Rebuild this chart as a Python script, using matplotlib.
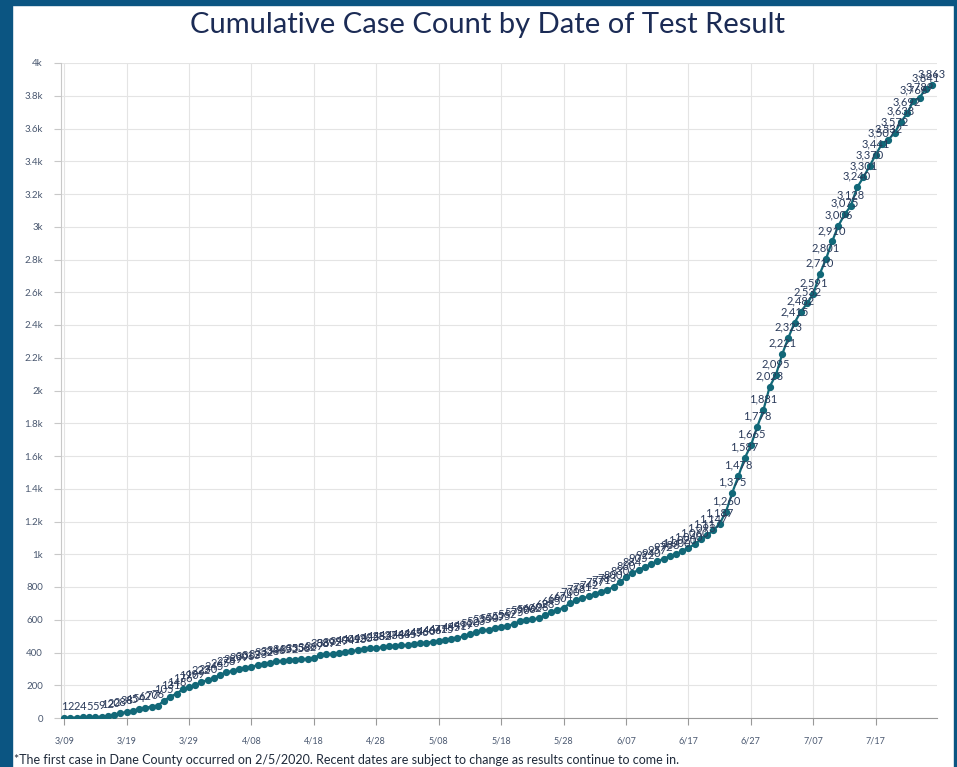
import matplotlib
matplotlib.use("Agg")
import matplotlib.pyplot as plt
from matplotlib.patches import Rectangle
from matplotlib.ticker import FuncFormatter

plt.rcParams['font.family'] = ['Lato', 'DejaVu Sans']

# cumulative cases, one value per day starting 3/09
cases = [1, 2, 2, 4, 5, 5, 9, 12, 20, 28,
         38, 45, 54, 62, 70, 76, 105, 131, 148, 176,
         190, 199, 222, 230, 245, 265, 278, 289, 299, 306,
         313, 323, 332, 338, 346, 349, 352, 355, 358, 362,
         367, 386, 389, 392, 397, 404, 409, 413, 420, 425,
         428, 432, 437, 438, 443, 445, 449, 456, 460, 466,
         471, 475, 485, 491, 499, 510, 523, 535, 540, 547,
         555, 562, 575, 590, 596, 602, 608, 628, 645, 660,
         674, 700, 718, 731, 742, 757, 771, 783, 800, 830,
         860, 884, 905, 922, 940, 957, 972, 988, 1000, 1020,
         1040, 1060, 1093, 1117, 1147, 1187, 1260, 1375, 1478, 1587,
         1665, 1778, 1881, 2023, 2095, 2221, 2323, 2415, 2482, 2532,
         2591, 2710, 2801, 2910, 3006, 3075, 3128, 3240, 3301, 3370,
         3441, 3507, 3532, 3572, 3638, 3692, 3766, 3789, 3841, 3863]
days = list(range(len(cases)))
tick_days = [0, 10, 20, 30, 40, 50, 60, 70, 80, 90, 100, 110, 120, 130]
tick_labels = ['3/09', '3/19', '3/29', '4/08', '4/18', '4/28', '5/08',
               '5/18', '5/28', '6/07', '6/17', '6/27', '7/07', '7/17']
y_ticks = list(range(0, 4001, 200))

frame = '#0b5582'
teal = '#126878'
navy = '#2a3a5a'

fig = plt.figure(figsize=(9.57, 7.67), dpi=100)
fig.patch.set_facecolor('white')
# dark frame strips
fig.add_artist(Rectangle((0, 0), 12 / 957, 1, transform=fig.transFigure, color=frame, zorder=0))
fig.add_artist(Rectangle((0, 1 - 5 / 767), 1, 5 / 767, transform=fig.transFigure, color=frame, zorder=0))
fig.add_artist(Rectangle((1 - 3 / 957, 0), 3 / 957, 1, transform=fig.transFigure, color=frame, zorder=0))

fig.text(0.509, 0.968, 'Cumulative Case Count by Date of Test Result', ha='center', va='center',
         fontsize=21, color='#1b2b55')
fig.text(14 / 957, 7 / 767, '*The first case in Dane County occurred on 2/5/2020. Recent dates are subject '
         'to change as results continue to come in.', ha='left', va='center', fontsize=9, color='#1f2a3a')

ax = fig.add_axes([61 / 957, 49 / 767, 876 / 957, 655 / 767])
ax.plot(days, cases, color=teal, lw=1.6, marker='o', ms=4.2, mfc=teal, mec=teal, zorder=3)
for d, v in zip(days, cases):
    ax.annotate(f'{v:,}', (d, v), xytext=(0, 4), textcoords='offset points', ha='center', va='bottom',
                fontsize=8, color=navy, zorder=4)

ax.set_xlim(-0.5, 139.8)
ax.set_ylim(0, 4000)
ax.set_xticks(tick_days)
ax.set_xticklabels(tick_labels)
ax.set_yticks(y_ticks)
ax.yaxis.set_major_formatter(FuncFormatter(
    lambda v, p: '0' if v == 0 else (f'{v / 1000:g}k' if v >= 1000 else f'{int(v)}')))
ax.grid(True, color='#e4e4e4', lw=0.8)
ax.set_axisbelow(True)
for s in ['top', 'right']:
    ax.spines[s].set_visible(False)
ax.spines['left'].set_color('#c8c8c8')
ax.spines['bottom'].set_color('#999999')
ax.tick_params(axis='y', length=5, color='#c8c8c8', labelsize=7, labelcolor='#4a5870', pad=8)
ax.tick_params(axis='x', length=5, color='#999999', labelsize=6.5, labelcolor='#4a5870', pad=8)

fig.savefig('out.png', dpi=100)
